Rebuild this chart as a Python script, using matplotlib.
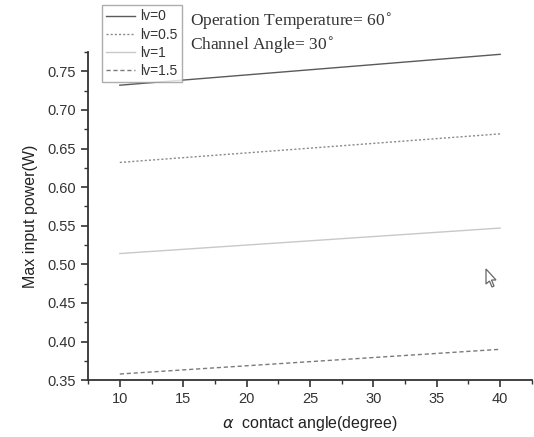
import matplotlib.pyplot as plt
from matplotlib.patches import Polygon
from matplotlib.ticker import MultipleLocator

plt.rcParams['font.family'] = 'Liberation Sans'

# contact angle (degree) and max input power (W) for each lv
angle = [10, 40]
lv_labels = ['lv=0', 'lv=0.5', 'lv=1', 'lv=1.5']
power_lv0 = [0.732, 0.772]
power_lv05 = [0.632, 0.669]
power_lv1 = [0.514, 0.547]
power_lv15 = [0.358, 0.390]

fig = plt.figure(figsize=(5.34, 4.37), dpi=100)
ax = fig.add_axes([0.165, 0.130, 0.831, 0.751])

l0, = ax.plot(angle, power_lv0, color='#5a5a5a', lw=1.0, ls='-')
l1, = ax.plot(angle, power_lv05, color='#8a8a8a', lw=1.0, ls=(0, (1.5, 1.5)))
l2, = ax.plot(angle, power_lv1, color='#c8c8c8', lw=1.0, ls='-')
l3, = ax.plot(angle, power_lv15, color='#7a7a7a', lw=1.0, ls=(0, (3, 2)))

ax.set_xlim(7.5, 42.5)
ax.set_ylim(0.35, 0.775)
ax.xaxis.set_minor_locator(MultipleLocator(2.5))
ax.yaxis.set_major_locator(MultipleLocator(0.05))
ax.yaxis.set_minor_locator(MultipleLocator(0.025))
ax.set_xticks(range(10, 45, 5))
ax.yaxis.set_major_formatter(plt.FormatStrFormatter('%.2f'))

for side in ['top', 'right']:
    ax.spines[side].set_visible(False)
for side in ['left', 'bottom']:
    ax.spines[side].set_linewidth(1.3)
    ax.spines[side].set_color('#333333')
ax.tick_params(which='major', direction='out', length=5, width=1.2,
               color='#333333', labelsize=10.5, labelcolor='#333333')
ax.tick_params(which='minor', direction='out', length=3, width=1.0, color='#333333')

ax.set_ylabel('Max input power(W)', fontsize=11.5, color='#222222', labelpad=7)
ax.set_xlabel(r'$\alpha$  contact angle(degree)', fontsize=11.5, color='#222222', labelpad=6)

leg = fig.legend([l0, l1, l2, l3], lv_labels, loc='upper left',
                 bbox_to_anchor=(0.191, 0.988), fontsize=10, frameon=True,
                 fancybox=False, handlelength=2.1, handletextpad=0.35,
                 borderpad=0.3, labelspacing=0.3, borderaxespad=0)
leg.get_frame().set_edgecolor('#999999')
leg.get_frame().set_linewidth(1.0)
for t in leg.get_texts():
    t.set_color('#333333')

fig.text(0.356, 0.950, 'Operation Temperature= 60$^{\\circ}$', family='Liberation Serif',
         fontsize=12.5, color='#333333', va='center')
fig.text(0.356, 0.895, 'Channel Angle= 30$^{\\circ}$', family='Liberation Serif',
         fontsize=12.5, color='#333333', va='center')

# mouse pointer left on the canvas
cursor = [(486, 269), (486, 284), (489.5, 281), (492, 287), (494, 286),
          (491.5, 280), (496, 280)]
fig.patches.append(Polygon([(x / 534, 1 - y / 437) for x, y in cursor], closed=True,
                           transform=fig.transFigure, facecolor='white',
                           edgecolor='#666666', lw=0.9))

fig.savefig('out.png', dpi=100)
